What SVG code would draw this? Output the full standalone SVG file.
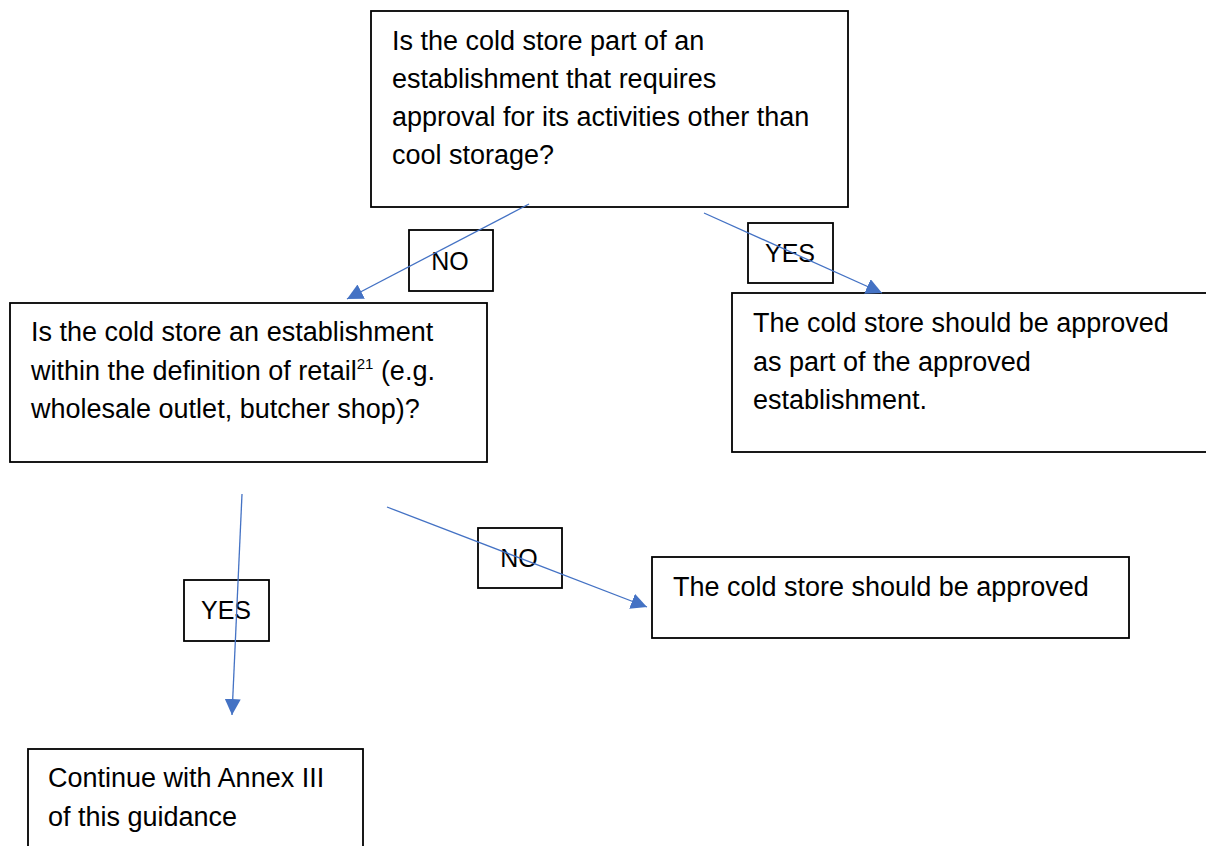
<svg xmlns="http://www.w3.org/2000/svg" width="1206" height="846" viewBox="0 0 1206 846">
<style>
.box{fill:#ffffff;stroke:#000000;stroke-width:1.8}
.t{font-family:"Liberation Sans",Arial,sans-serif;font-size:27px;fill:#000000}
.lbl{font-family:"Liberation Sans",Arial,sans-serif;font-size:25px;fill:#000000;text-anchor:middle}
.sup{font-size:15px}
.conn{stroke:#4472C4;stroke-width:1.3;fill:none;marker-end:url(#ah)}
</style>
<defs>
<marker id="ah" viewBox="0 0 16 16" refX="16" refY="8" markerWidth="16" markerHeight="16" markerUnits="userSpaceOnUse" orient="auto">
<path d="M0,0 L16,8 L0,16 Z" fill="#4472C4"/>
</marker>
</defs>
<rect width="1206" height="846" fill="#ffffff"/>
<g id="q1">
<rect class="box" x="371" y="11" width="477" height="196"/>
<text class="t" x="392" y="50">Is the cold store part of an</text>
<text class="t" x="392" y="88">establishment that requires</text>
<text class="t" x="392" y="126">approval for its activities other than</text>
<text class="t" x="392" y="164">cool storage?</text>
</g>
<g id="q2">
<rect class="box" x="10" y="303" width="477" height="159"/>
<text class="t" x="31" y="341">Is the cold store an establishment</text>
<text class="t" x="31" y="380">within the definition of retail<tspan class="sup" dy="-11">21</tspan><tspan dy="11"> (e.g.</tspan></text>
<text class="t" x="31" y="418">wholesale outlet, butcher shop)?</text>
</g>
<g id="r1">
<rect class="box" x="732" y="293" width="490" height="159"/>
<text class="t" x="753" y="332">The cold store should be approved</text>
<text class="t" x="753" y="371">as part of the approved</text>
<text class="t" x="753" y="409">establishment.</text>
</g>
<g id="r2">
<rect class="box" x="652" y="557" width="477" height="81"/>
<text class="t" x="673" y="596">The cold store should be approved</text>
</g>
<g id="r3">
<rect class="box" x="28" y="749" width="335" height="110"/>
<text class="t" x="48" y="787">Continue with Annex III</text>
<text class="t" x="48" y="826">of this guidance</text>
</g>
<g id="l-no1">
<rect class="box" x="409" y="230" width="84" height="61"/>
<text class="lbl" x="450" y="270">NO</text>
</g>
<g id="l-yes1">
<rect class="box" x="748" y="223" width="85" height="60"/>
<text class="lbl" x="790" y="262">YES</text>
</g>
<g id="l-yes2">
<rect class="box" x="184" y="580" width="85" height="61"/>
<text class="lbl" x="226" y="619">YES</text>
</g>
<g id="l-no2">
<rect class="box" x="478" y="528" width="84" height="60"/>
<text class="lbl" x="519" y="567">NO</text>
</g>
<g id="connectors">
<line class="conn" x1="529" y1="204" x2="347" y2="299"/>
<line class="conn" x1="704" y1="213" x2="882" y2="293"/>
<line class="conn" x1="242" y1="494" x2="232" y2="715"/>
<line class="conn" x1="387" y1="507" x2="647" y2="607"/>
</g>
</svg>
